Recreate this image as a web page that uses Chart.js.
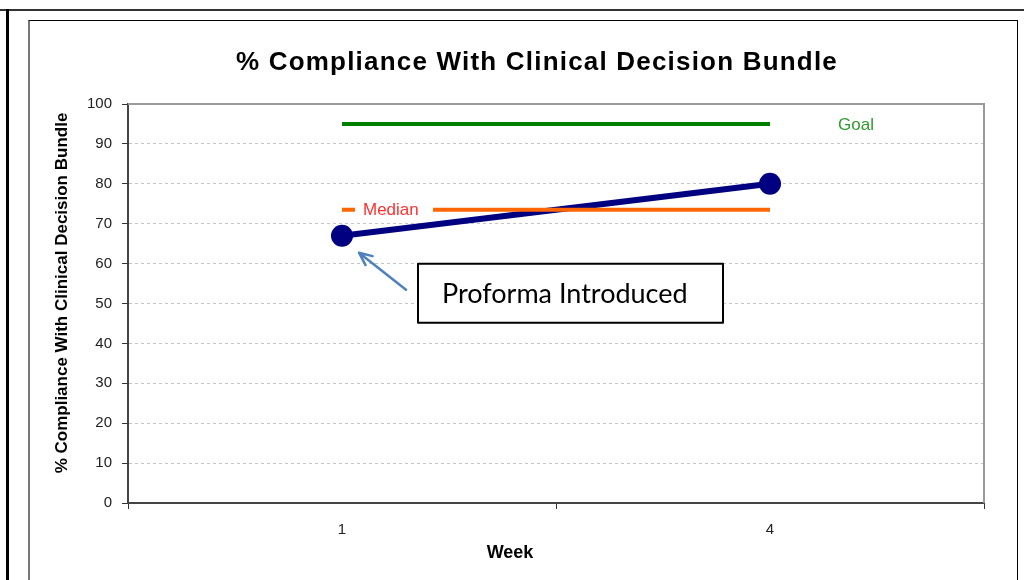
<!DOCTYPE html>
<html><head><meta charset="utf-8">
<script src="https://cdn.jsdelivr.net/npm/chart.js@4/dist/chart.umd.min.js"></script>
<style>
html,body{margin:0;padding:0;background:#fff;}
#wrap{position:relative;width:1024px;height:580px;overflow:hidden;background:#fff;}
.f{position:absolute;}
canvas{position:absolute;left:0;top:0;}
</style></head><body>
<div id="wrap">
<div class="f" style="left:0;top:9px;width:1024px;height:2px;background:#333"></div>
<div class="f" style="left:6px;top:9px;width:3px;height:600px;background:#000"></div>
<div class="f" style="left:28px;top:20px;width:990px;height:600px;border-top:1px solid #000;border-left:2px solid #777;border-right:1px solid #000;box-sizing:border-box"></div>
<canvas id="c" width="1024" height="580"></canvas>
</div>
<script>
const weeks = ['1', '4'];
const compliance = [67, 80];
const goal = [95, 95];
const median = [73.5, 73.5];
const yMin = 0, yMax = 100, yStep = 10;
const chartTitle = '% Compliance With Clinical Decision Bundle';
const yTitle = '% Compliance With Clinical Decision Bundle';
const xTitle = 'Week';
const medianLabel = 'Median';
const goalLabel = 'Goal';
const noteText = 'Proforma Introduced';

const FONT = '"Liberation Sans", Arial, sans-serif';

const annot = {
  id: 'annot',
  beforeDatasetsDraw(chart) {
    const {ctx, chartArea: a} = chart;
    ctx.save();
    ctx.strokeStyle = '#9a9a9a';
    ctx.lineWidth = 2;
    ctx.beginPath();
    ctx.moveTo(a.left, a.top);
    ctx.lineTo(a.right, a.top);
    ctx.lineTo(a.right, a.bottom);
    ctx.stroke();
    ctx.restore();
  },
  afterDraw(chart) {
    const {ctx, chartArea: a} = chart;
    ctx.save();
    ctx.fillStyle = '#000';
    ctx.textAlign = 'center';
    ctx.textBaseline = 'middle';
    // chart title
    ctx.font = 'bold 26px ' + FONT;
    ctx.letterSpacing = '1.2px';
    ctx.fillText(chartTitle, 537, 63);
    ctx.letterSpacing = '0px';
    // x title
    ctx.font = 'bold 18px ' + FONT;
    ctx.fillText(xTitle, 510, 553);
    // y title
    ctx.translate(62, 293);
    ctx.rotate(-Math.PI / 2);
    ctx.font = 'bold 17px ' + FONT;
    ctx.fillText(yTitle, 0, 0);
    ctx.restore();
  },
  afterDatasetsDraw(chart) {
    const {ctx} = chart;
    const xs = chart.scales.x, ys = chart.scales.y;
    const x0 = xs.getPixelForValue(0), x1 = xs.getPixelForValue(1);
    const ym = ys.getPixelForValue(median[0]);
    const yg = ys.getPixelForValue(goal[goal.length - 1]);
    const yp = ys.getPixelForValue(compliance[0]);
    ctx.save();
    // Median label over the line
    ctx.fillStyle = '#fff';
    ctx.fillRect(x0 + 13, ym - 6, 78, 12);
    ctx.font = '17px ' + FONT;
    ctx.textBaseline = 'middle';
    ctx.textAlign = 'left';
    ctx.fillStyle = '#ff3030';
    ctx.fillText(medianLabel, x0 + 21, ym + 1);
    // Goal label
    ctx.fillStyle = '#2e9a2e';
    ctx.fillText(goalLabel, x1 + 68, yg + 1);
    // Arrow
    const sx = x0 + 64, sy = yp + 54, tx = x0 + 17, ty = yp + 17;
    ctx.strokeStyle = '#4f81bd';
    ctx.lineWidth = 2.5;
    ctx.lineCap = 'round';
    ctx.lineJoin = 'round';
    ctx.beginPath();
    ctx.moveTo(sx, sy);
    ctx.lineTo(tx, ty);
    const ang = Math.atan2(ty - sy, tx - sx);
    const hl = 14, ha = 0.42;
    ctx.moveTo(tx - hl * Math.cos(ang - ha), ty - hl * Math.sin(ang - ha));
    ctx.lineTo(tx, ty);
    ctx.lineTo(tx - hl * Math.cos(ang + ha), ty - hl * Math.sin(ang + ha));
    ctx.stroke();
    // Note box
    const bx = x0 + 76, by = yp + 28, bw = 305, bh = 59;
    ctx.fillStyle = '#fff';
    ctx.fillRect(bx, by, bw, bh);
    ctx.strokeStyle = '#000';
    ctx.lineWidth = 2;
    ctx.strokeRect(bx, by, bw, bh);
    ctx.fillStyle = '#000';
    ctx.font = '27px Lato, "Open Sans", sans-serif';
    ctx.textAlign = 'left';
    ctx.textBaseline = 'middle';
    ctx.fillText(noteText, bx + 24, by + bh / 2 + 1);
    ctx.restore();
  }
};

new Chart(document.getElementById('c'), {
  type: 'line',
  data: {
    labels: weeks,
    datasets: [
      {label: 'Goal', data: goal, borderColor: '#008000', borderWidth: 4, pointRadius: 0, fill: false},
      {label: 'Median', data: median, borderColor: '#ff6600', borderWidth: 4, pointRadius: 0, fill: false},
      {label: 'Compliance', data: compliance, borderColor: '#000080', backgroundColor: '#000080',
       borderWidth: 6, pointRadius: 11, pointBorderWidth: 0, pointBackgroundColor: '#000080', fill: false}
    ]
  },
  options: {
    responsive: false,
    animation: false,
    events: [],
    layout: {padding: {left: 50, top: 104, right: 40, bottom: 0}},
    plugins: {
      legend: {display: false},
      tooltip: {enabled: false},
      title: {display: false}
    },
    scales: {
      x: {
        offset: true,
        grid: {offset: true, drawOnChartArea: false, drawTicks: true, tickLength: 6, tickColor: '#333', tickWidth: 1, tickBorderDash: []},
        border: {color: '#444', width: 2},
        ticks: {color: '#222', font: {family: FONT, size: 15}, padding: 12},
        afterFit(s) { s.height = 77; }
      },
      y: {
        min: yMin, max: yMax,
        ticks: {stepSize: yStep, color: '#222', font: {family: FONT, size: 15}, padding: 10},
        grid: {color: '#c4c4c4', lineWidth: 1, tickLength: 6, tickColor: '#333', tickWidth: 1, tickBorderDash: []},
        border: {color: '#444', width: 2, dash: [3, 3]},
        afterFit(s) { s.width = 78; }
      }
    }
  },
  plugins: [annot]
});
</script>
</body></html>
